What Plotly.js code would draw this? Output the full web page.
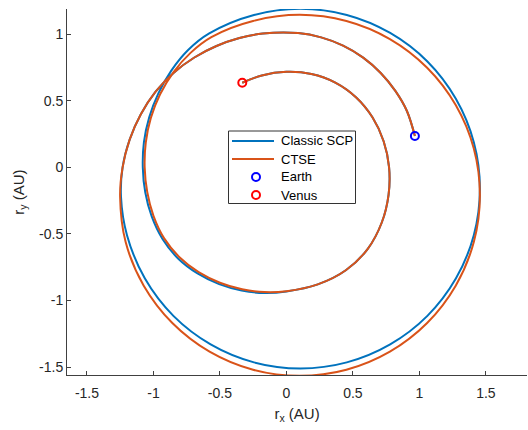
<!DOCTYPE html>
<html>
<head>
<meta charset="utf-8">
<script src="https://cdn.plot.ly/plotly-3.0.1.min.js"></script>
<style>
  html, body { margin: 0; padding: 0; background: #fff; }
  #chart { width: 528px; height: 430px; }
</style>
</head>
<body>
<div id="chart"></div>
<script>
// Heliocentric transfer trajectories (AU), Earth departure to Venus arrival.

// Departure arc shared by both solutions (Earth -> outer left)
const departX = [0.966, 0.906, 0.819, 0.709, 0.577, 0.426, 0.261, 0.088, -0.1771, -0.3533, -0.526, -0.6923, -0.8472, -0.9838, -1.0948, -1.1788, -1.232];
const departY = [0.235, 0.423, 0.574, 0.709, 0.824, 0.914, 0.976, 1.008, 1.0045, 0.9707, 0.911, 0.825, 0.7109, 0.568, 0.3984, 0.2078, 0.000];

// Classic SCP: outer revolution, then inward spiral
const scpLoopX = [-1.244, -1.199, -1.064, -0.850, -0.570, -0.244, 0.105, 0.454, 0.780, 1.060, 1.274, 1.409, 1.455, 1.409, 1.274, 1.060, 0.780, 0.454, 0.105, -0.244,
                  -0.5805, -0.7392, -0.8656, -0.963, -1.0318, -1.0715, -1.080, -1.0616, -1.013, -0.9318, -0.815, -0.6685, -0.506, -0.3365, -0.1663, 0.000];
const scpLoopY = [-0.221, -0.509, -0.835, -1.115, -1.329, -1.464, -1.510, -1.464, -1.329, -1.115, -0.835, -0.509, -0.160, 0.189, 0.515, 0.795, 1.009, 1.144, 1.190, 1.144,
                  1.0055, 0.8809, 0.7264, 0.556, 0.3755, 0.1889, 0.000, -0.1871, -0.3687, -0.538, -0.6839, -0.7966, -0.8764, -0.9247, -0.9434, -0.932];

// CTSE: outer revolution, then inward spiral
const ctseLoopX = [-1.2507, -1.209, -1.073, -0.858, -0.578, -0.251, 0.100, 0.451, 0.778, 1.058, 1.273, 1.409, 1.455, 1.409, 1.273, 1.058, 0.778, 0.451, 0.100, -0.251,
                   -0.5645, -0.7212, -0.8503, -0.950, -1.0196, -1.0577, -1.066, -1.0468, -0.9998, -0.9206, -0.8043, -0.6602, -0.500, -0.3331, -0.1651, 0.000];
const ctseLoopY = [-0.2205, -0.561, -0.888, -1.168, -1.383, -1.519, -1.565, -1.519, -1.383, -1.168, -0.888, -0.561, -0.210, 0.141, 0.468, 0.748, 0.963, 1.099, 1.145, 1.099,
                   0.9777, 0.8595, 0.7135, 0.5485, 0.3711, 0.1864, 0.000, -0.1845, -0.3639, -0.5315, -0.6749, -0.7867, -0.866, -0.9153, -0.9365, -0.930];

// Final approach shared by both solutions (-> Venus)
const arriveX = [0.2355, 0.4465, 0.6117, 0.717, 0.768, 0.772, 0.731, 0.648, 0.5247, 0.3675, 0.188, 0.000, -0.185, -0.332];
const arriveY = [-0.879, -0.773, -0.6117, -0.414, -0.206, 0.000, 0.196, 0.374, 0.5247, 0.6365, 0.701, 0.717, 0.690, 0.635];

const earthPos = [0.966, 0.235];
const venusPos = [-0.332, 0.635];

const xTicks = [-1.5, -1, -0.5, 0, 0.5, 1, 1.5];
const yTicks = [-1.5, -1, -0.5, 0, 0.5, 1];

const seriesNames = ['Classic SCP', 'CTSE', 'Earth', 'Venus'];
const seriesColors = ['#0072BD', '#D95319', '#0000FF', '#FF0000'];

const scpX = departX.concat(scpLoopX, arriveX);
const scpY = departY.concat(scpLoopY, arriveY);
const ctseX = departX.concat(ctseLoopX, arriveX);
const ctseY = departY.concat(ctseLoopY, arriveY);

const font = 'Liberation Sans, Arial, Helvetica, sans-serif';
const ink = '#262626';

const traces = [
  { x: scpX, y: scpY, mode: 'lines', name: seriesNames[0], showlegend: false,
    line: { color: seriesColors[0], width: 2, shape: 'spline', smoothing: 1 } },
  { x: ctseX, y: ctseY, mode: 'lines', name: seriesNames[1], showlegend: false,
    line: { color: seriesColors[1], width: 2, shape: 'spline', smoothing: 1 } },
  { x: [earthPos[0]], y: [earthPos[1]], mode: 'markers', name: seriesNames[2], showlegend: false,
    marker: { symbol: 'circle-open', size: 8, color: seriesColors[2], line: { width: 2, color: seriesColors[2] } } },
  { x: [venusPos[0]], y: [venusPos[1]], mode: 'markers', name: seriesNames[3], showlegend: false,
    marker: { symbol: 'circle-open', size: 8, color: seriesColors[3], line: { width: 2, color: seriesColors[3] } } }
];

// Legend box drawn in plot-area pixels (plot area spans 67..527 x 9..375)
const PL = 67, PW = 460, PB = 375, PH = 366;
const px = v => (v - PL) / PW;
const py = v => (PB - v) / PH;
const rowY = [141, 159, 177, 195];

const shapes = [
  { type: 'rect', xref: 'paper', yref: 'paper', x0: px(228.5), x1: px(355.5), y0: py(203.5), y1: py(131),
    fillcolor: '#ffffff', line: { color: '#333333', width: 1 }, layer: 'above' },
  { type: 'line', xref: 'paper', yref: 'paper', x0: px(232), x1: px(274), y0: py(rowY[0]), y1: py(rowY[0]),
    line: { color: seriesColors[0], width: 2 }, layer: 'above' },
  { type: 'line', xref: 'paper', yref: 'paper', x0: px(232), x1: px(274), y0: py(rowY[1]), y1: py(rowY[1]),
    line: { color: seriesColors[1], width: 2 }, layer: 'above' }
];
[2, 3].forEach(i => {
  shapes.push({ type: 'circle', xref: 'paper', yref: 'paper', xsizemode: 'pixel', ysizemode: 'pixel',
    xanchor: px(256), yanchor: py(rowY[i]), x0: -4, x1: 4, y0: -4, y1: 4,
    line: { color: seriesColors[i], width: 2 }, layer: 'above' });
});

const annotations = seriesNames.map((name, i) => ({
  xref: 'paper', yref: 'paper', x: px(279), y: py(rowY[i]), xanchor: 'left', yanchor: 'middle',
  text: name, showarrow: false, font: { family: font, size: 13, color: '#000000' }
}));

const axisCommon = {
  showgrid: false, zeroline: false, showline: true, mirror: false,
  linecolor: '#404040', linewidth: 1,
  ticks: 'inside', ticklen: 4, tickwidth: 1, tickcolor: '#404040',
  tickfont: { family: font, size: 14, color: ink },
  fixedrange: true
};

const layout = {
  width: 528, height: 430,
  margin: { l: 67, r: 1, t: 9, b: 55 },
  paper_bgcolor: '#ffffff', plot_bgcolor: '#ffffff',
  font: { family: font, color: ink },
  showlegend: false,
  shapes: shapes,
  annotations: annotations,
  xaxis: Object.assign({}, axisCommon, {
    range: [-1.65, 1.809], tickvals: xTicks, ticktext: xTicks.map(String), ticklabelstandoff: 5,
    title: { text: 'r<sub>x</sub> (AU)', font: { family: font, size: 15, color: ink }, standoff: 8 }
  }),
  yaxis: Object.assign({}, axisCommon, {
    range: [-1.559, 1.189], tickvals: yTicks, ticktext: yTicks.map(String),
    title: { text: 'r<sub>y</sub> (AU)', font: { family: font, size: 15, color: ink }, standoff: 10 }
  })
};

Plotly.newPlot('chart', traces, layout, { displayModeBar: false, staticPlot: true });
</script>
</body>
</html>
